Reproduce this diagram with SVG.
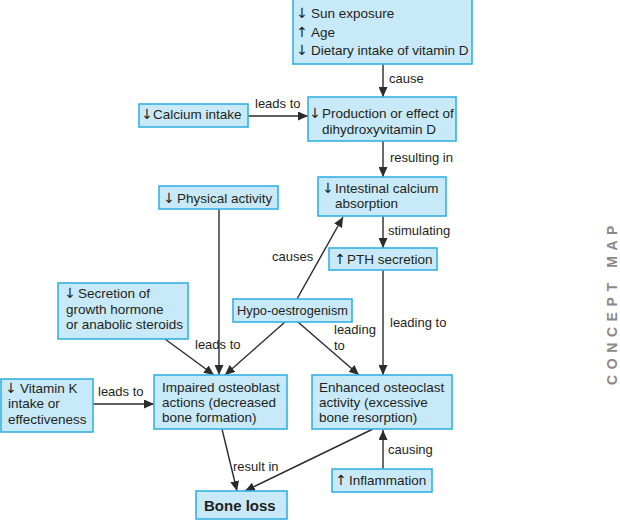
<svg xmlns="http://www.w3.org/2000/svg" width="620" height="520" viewBox="0 0 620 520">
<defs>
<style>
.box{fill:#c8eaf8;stroke:#35b1e4;stroke-width:1.6}
text{font-family:"Liberation Sans",Arial,sans-serif;font-size:13.5px;fill:#231f20}
.ar{text-anchor:middle;font-family:"DejaVu Sans",sans-serif;font-size:14px}
.lbl{font-size:13px}
.bold{font-weight:bold;font-size:15px}
.edge{stroke:#2b2b2b;stroke-width:1.4;fill:none;marker-end:url(#ah)}
.cm{font-weight:bold;font-size:14px;fill:#8a8a8a;letter-spacing:5.6px}
</style>
<marker id="ah" markerUnits="userSpaceOnUse" markerWidth="10" markerHeight="9" refX="10" refY="4.5" orient="auto">
<path d="M0,0 L10,4.5 L0,9 z" fill="#2b2b2b"/>
</marker>
</defs>
<rect width="620" height="520" fill="#ffffff"/>

<g id="connectors">
<line class="edge" x1="383" y1="64" x2="383" y2="97"/>
<line class="edge" x1="248" y1="116" x2="308" y2="116"/>
<line class="edge" x1="383" y1="141" x2="383" y2="177"/>
<line class="edge" x1="383" y1="216" x2="383" y2="248"/>
<line class="edge" x1="297" y1="299" x2="343" y2="217"/>
<line class="edge" x1="219" y1="209" x2="219" y2="375"/>
<line class="edge" x1="165" y1="339" x2="214" y2="375"/>
<line class="edge" x1="285" y1="322" x2="225" y2="375"/>
<line class="edge" x1="298" y1="322" x2="359" y2="375"/>
<line class="edge" x1="383" y1="270" x2="383" y2="375"/>
<line class="edge" x1="93" y1="404" x2="154" y2="404"/>
<line class="edge" x1="222" y1="429" x2="237" y2="491"/>
<line class="edge" x1="373" y1="429" x2="245" y2="491"/>
<line class="edge" x1="383" y1="469" x2="383" y2="430"/>
<text class="lbl" x="389" y="83">cause</text>
<text class="lbl" x="255" y="108">leads to</text>
<text class="lbl" x="390" y="162">resulting in</text>
<text class="lbl" x="388" y="235">stimulating</text>
<text class="lbl" x="272" y="261">causes</text>
<text class="lbl" x="195" y="349">leads to</text>
<text class="lbl" x="334" y="334">leading</text>
<text class="lbl" x="334" y="350">to</text>
<text class="lbl" x="390" y="327">leading to</text>
<text class="lbl" x="98" y="396">leads to</text>
<text class="lbl" x="233" y="471">result in</text>
<text class="lbl" x="388" y="454">causing</text>
</g>

<g id="n-causes">
<rect class="box" x="293" y="-1" width="179" height="65"/>
<text class="ar" x="302" y="18">↓</text>
<text x="311" y="18">Sun exposure</text>
<text class="ar" x="302" y="37">↑</text>
<text x="311" y="37">Age</text>
<text class="ar" x="302" y="55">↓</text>
<text x="311" y="55">Dietary intake of vitamin D</text>
</g>

<g id="n-production">
<rect class="box" x="308" y="97" width="148" height="44"/>
<text class="ar" x="315" y="118">↓</text>
<text x="322" y="118">Production or effect of</text>
<text x="322" y="134">dihydroxyvitamin D</text>
</g>

<g id="n-calcium">
<rect class="box" x="139" y="104" width="109" height="23"/>
<text class="ar" x="147" y="119">↓</text>
<text x="153" y="119">Calcium intake</text>
</g>

<g id="n-intestinal">
<rect class="box" x="318" y="177" width="128" height="39"/>
<text class="ar" x="328" y="193">↓</text>
<text x="335" y="193">Intestinal calcium</text>
<text x="335" y="208">absorption</text>
</g>

<g id="n-physical">
<rect class="box" x="159" y="186" width="119" height="23"/>
<text class="ar" x="169" y="203">↓</text>
<text x="177" y="203">Physical activity</text>
</g>

<g id="n-pth">
<rect class="box" x="329" y="248" width="108" height="22"/>
<text class="ar" x="340" y="264">↑</text>
<text x="347" y="264">PTH secretion</text>
</g>

<g id="n-secretion">
<rect class="box" x="58" y="283" width="130" height="56"/>
<text class="ar" x="70" y="298">↓</text>
<text x="78" y="298">Secretion of</text>
<text x="66" y="314">growth hormone</text>
<text x="66" y="329">or anabolic steroids</text>
</g>

<g id="n-hypo">
<rect class="box" x="233" y="299" width="119" height="23"/>
<text x="237" y="315" textLength="111" lengthAdjust="spacingAndGlyphs">Hypo-oestrogenism</text>
</g>

<g id="n-vitk">
<rect class="box" x="1" y="379" width="92" height="53"/>
<text class="ar" x="11" y="393">↓</text>
<text x="20" y="393">Vitamin K</text>
<text x="8" y="408">intake or</text>
<text x="8" y="424">effectiveness</text>
</g>

<g id="n-impaired">
<rect class="box" x="154" y="375" width="133" height="54"/>
<text x="162" y="392">Impaired osteoblast</text>
<text x="162" y="407">actions (decreased</text>
<text x="162" y="422">bone formation)</text>
</g>

<g id="n-enhanced">
<rect class="box" x="312" y="375" width="140" height="54"/>
<text x="319" y="392">Enhanced osteoclast</text>
<text x="319" y="407">activity (excessive</text>
<text x="319" y="422">bone resorption)</text>
</g>

<g id="n-inflammation">
<rect class="box" x="332" y="469" width="100" height="23"/>
<text class="ar" x="341" y="485">↑</text>
<text x="349" y="485">Inflammation</text>
</g>

<g id="n-boneloss">
<rect class="box" x="196" y="491" width="91" height="28"/>
<text class="bold" x="204" y="511">Bone loss</text>
</g>

<text class="cm" transform="translate(617,385) rotate(-90)">CONCEPT MAP</text>
</svg>
